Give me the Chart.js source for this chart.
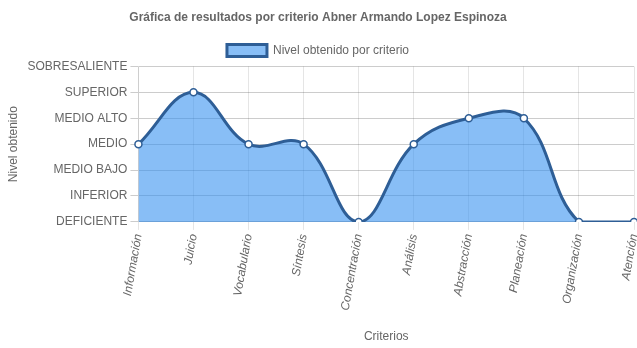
<!DOCTYPE html>
<html>
<head>
<meta charset="utf-8">
<title>Gráfica de resultados</title>
<script src="https://cdn.jsdelivr.net/npm/chart.js@4.4.0/dist/chart.umd.min.js"></script>
<style>
  html, body { margin: 0; padding: 0; background: #fff; }
  #wrap { width: 637px; height: 348px; }
</style>
</head>
<body>
<div id="wrap"><canvas id="chart" width="637" height="348"></canvas></div>
<script>
/* DATOS */
const criterios = ["Información", "Juicio", "Vocabulario", "Síntesis", "Concentración",
                   "Análisis", "Abstracción", "Planeación", "Organización", "Atención"];

// niveles de menor a mayor
const niveles = ["DEFICIENTE", "INFERIOR", "MEDIO BAJO", "MEDIO", "MEDIO ALTO", "SUPERIOR", "SOBRESALIENTE"];

const resultados = ["MEDIO", "SUPERIOR", "MEDIO", "MEDIO", "DEFICIENTE",
                    "MEDIO", "MEDIO ALTO", "MEDIO ALTO", "DEFICIENTE", "DEFICIENTE"];

const puntos = resultados.map(r => niveles.indexOf(r));

Chart.defaults.font.family = 'Arial, "Liberation Sans", Helvetica, sans-serif';
Chart.defaults.font.size = 12;
Chart.defaults.color = '#666';

let ctx = document.getElementById("chart").getContext("2d");

let chart = new Chart(ctx, {
    type: 'line',
    data: {
        labels: criterios,
        datasets: [{
            label: "Nivel obtenido por criterio",
            data: puntos,
            fill: true,
            backgroundColor: 'rgba(50,143,240,0.58)',
            borderColor: '#2e5e96',
            borderWidth: 3,
            tension: 0.4,
            pointRadius: 3.5,
            pointBackgroundColor: '#fff',
            pointBorderColor: '#2e5e96',
            pointBorderWidth: 1.5
        }]
    },
    options: {
        responsive: false,
        animation: false,
        layout: { autoPadding: false, padding: { left: 2, right: 3, bottom: 0 } },
        plugins: {
            title: {
                display: true,
                text: "Gráfica de resultados por criterio Abner Armando Lopez Espinoza",
                font: { size: 12, weight: 'bold' },
                padding: 10
            },
            legend: {
                labels: { boxWidth: 40, boxHeight: 12 }
            },
            tooltip: { enabled: false }
        },
        scales: {
            x: {
                title: { display: true, text: "Criterios", padding: { top: 15, bottom: 4 } },
                ticks: {
                    minRotation: 80,
                    maxRotation: 80,
                    font: { style: 'italic' }
                },
                grid: { color: 'rgba(0,0,0,0.1)' },
                // sin margen extra a la derecha por la última etiqueta
                afterFit: s => { s.paddingRight = 0; }
            },
            y: {
                min: 0,
                max: niveles.length - 1,
                title: { display: true, text: "Nivel obtenido" },
                ticks: {
                    stepSize: 1,
                    callback: v => niveles[v]
                },
                grid: { color: 'rgba(0,0,0,0.2)' }
            }
        }
    }
});
</script>
</body>
</html>
